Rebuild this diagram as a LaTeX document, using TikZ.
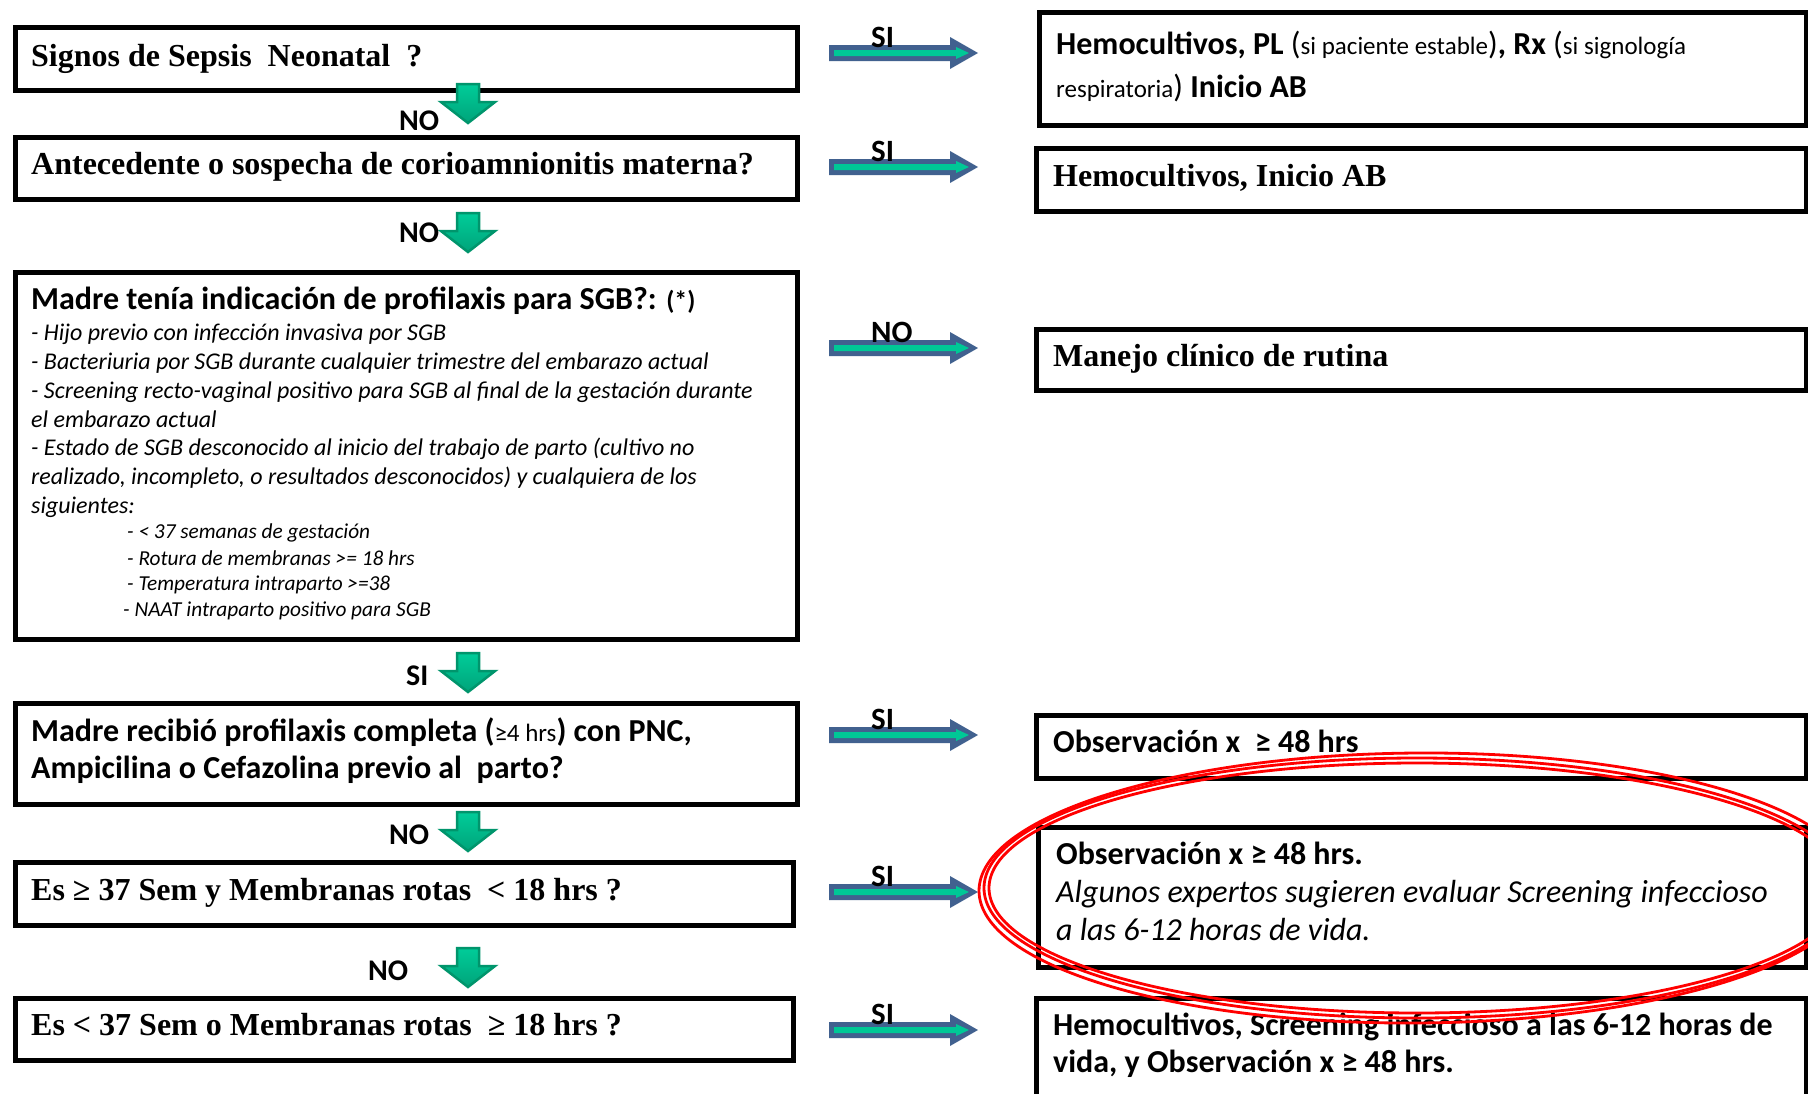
\documentclass[tikz,border=0pt]{standalone}
\usepackage{fontspec}
\setmainfont{Liberation Serif}
\newfontfamily\calfont{Carlito}
\definecolor{arrowblue}{HTML}{41618F}
\definecolor{arrowgreen}{HTML}{00C896}
\definecolor{dlight}{HTML}{00CC99}
\definecolor{ddark}{HTML}{00A47A}
\definecolor{dline}{HTML}{00956C}
\tikzset{
  box/.style={draw=black, line width=4.5pt, inner sep=0pt, anchor=north west},
  lbl/.style={anchor=base west, inner sep=0pt},
  tnr/.style={lbl, font=\fontsize{32}{38}\selectfont\bfseries},
  cb/.style={lbl, font=\calfont\fontsize{32}{38}\selectfont\bfseries},
  cit/.style={lbl, font=\calfont\fontsize{32}{38}\selectfont\itshape},
  litem/.style={lbl, font=\calfont\fontsize{24}{29}\selectfont\itshape},
  sitem/.style={lbl, font=\calfont\fontsize{21.3}{25}\selectfont\itshape},
  tag/.style={lbl, font=\calfont\fontsize{30}{34}\selectfont\bfseries},
  rtag/.style={lbl, font=\calfont\fontsize{31}{35}\selectfont\bfseries},
  rarrow/.pic={
    \fill[arrowblue] (0,-8) -- (121,-8) -- (121,-16) -- (149,0) -- (121,16)
      -- (121,8) -- (0,8) -- cycle;
    \fill[arrowgreen] (5,-3) -- (127,-3) -- (127,-6) -- (140,0) -- (127,6)
      -- (127,3) -- (5,3) -- cycle;
  },
  darrow/.pic={
    \shadedraw[top color=dlight, bottom color=ddark, draw=dline, line width=2.5pt,
      line join=miter]
      (-11,0) -- (11,0) -- (11,18) -- (27,18) -- (0,39) -- (-27,18) -- (-11,18) -- cycle;
  }
}
\newcommand{\sm}[1]{{\mdseries\fontsize{25}{30}\selectfont #1}}
\newcommand{\bigparen}[1]{{\mdseries #1}}
\begin{document}
\begin{tikzpicture}[x=1pt,y=-1pt]
\useasboundingbox (0,0) rectangle (1808,1093);
\clip (0,0) rectangle (1808,1093);
\fill[white] (0,0) rectangle (1808,1093);

% left column: questions
\node[box, minimum width=782pt, minimum height=63pt]  (b1) at (13,25)  {};
\node[box, minimum width=782pt, minimum height=62pt]  (b2) at (13,135) {};
\node[box, minimum width=782pt, minimum height=367pt] (b3) at (13,270) {};
\node[box, minimum width=782pt, minimum height=101pt] (b4) at (13,701) {};
\node[box, minimum width=778pt, minimum height=63pt]  (b5) at (13,860) {};
\node[box, minimum width=778pt, minimum height=62pt]  (b6) at (13,996) {};

% right column: actions
\node[box, minimum width=767pt, minimum height=113pt] (r1) at (1037,10)  {};
\node[box, minimum width=770pt, minimum height=63pt]  (r2) at (1034,146) {};
\node[box, minimum width=770pt, minimum height=61pt]  (r3) at (1034,327) {};
\node[box, minimum width=770pt, minimum height=63pt]  (r4) at (1034,713) {};
\node[box, minimum width=768pt, minimum height=140pt] (r5) at (1036,825) {};
\node[box, minimum width=770pt, minimum height=110pt] (r6) at (1034,996) {};

% question texts
\node[tnr] (t1) at (31,66)  {Signos de Sepsis\ \ Neonatal\ \ ?};
\node[tnr] (t2) at (31,174) {Antecedente o sospecha de corioamnionitis materna?};
\node[cb]  (t3) at (31,309) {Madre tenía indicación de profilaxis para SGB?: {\fontsize{26}{30}\selectfont(*)}};
\node[litem] (l1) at (31,340) {- Hijo previo con infección invasiva por SGB};
\node[litem] (l2) at (31,369) {- Bacteriuria por SGB durante cualquier trimestre del embarazo actual};
\node[litem] (l3) at (31,398) {- Screening recto-vaginal positivo para SGB al final de la gestación durante};
\node[litem] (l4) at (31,427) {el embarazo actual};
\node[litem] (l5) at (31,455) {- Estado de SGB desconocido al inicio del trabajo de parto (cultivo no};
\node[litem] (l6) at (31,484) {realizado, incompleto, o resultados desconocidos) y cualquiera de los};
\node[litem] (l7) at (31,513) {siguientes:};
\node[sitem] (s1) at (127,538) {- < 37 semanas de gestación};
\node[sitem] (s2) at (127,565) {- Rotura de membranas >= 18 hrs};
\node[sitem] (s3) at (127,590) {- Temperatura intraparto >=38};
\node[sitem] (s4) at (123,616) {- NAAT intraparto positivo para SGB};
\node[cb] (t4a) at (31,741) {Madre recibió profilaxis completa (\sm{≥4 hrs}) con PNC,};
\node[cb] (t4b) at (31,778) {Ampicilina o Cefazolina previo al\ \ parto?};
\node[tnr] (t5) at (31,900)  {Es ≥ 37 Sem y Membranas rotas\ \ < 18 hrs ?};
\node[tnr] (t6) at (31,1035) {Es < 37 Sem o Membranas rotas\ \ ≥ 18 hrs ?};

% action texts
\node[cb] (u1a) at (1056,54) {Hemocultivos, PL \bigparen{(}\sm{si paciente estable}\bigparen{)}, Rx \bigparen{(}\sm{si signología}};
\node[cb] (u1b) at (1056,97) {\sm{respiratoria}\bigparen{)} Inicio AB};
\node[tnr] (u2) at (1053,186) {Hemocultivos, Inicio AB};
\node[tnr] (u3) at (1053,366) {Manejo clínico de rutina};
\node[cb]  (u4) at (1053,752) {Observación x\ \ ≥ 48 hrs};
\node[cb]  (u5a) at (1056,864) {Observación x ≥ 48 hrs.};
\node[cit] (u5b) at (1056,902) {Algunos expertos sugieren evaluar Screening infeccioso};
\node[cit] (u5c) at (1056,940) {a las 6-12 horas de vida.};
\node[cb]  (u6a) at (1053,1035) {Hemocultivos, Screening infeccioso a las 6-12 horas de};
\node[cb]  (u6b) at (1053,1072) {vida, y Observación x ≥ 48 hrs.};

% horizontal arrows with their labels on top
\foreach \yy/\nm/\tx in {53/h1/SI, 167/h2/SI, 348/h3/NO, 735/h4/SI, 892/h5/SI, 1030/h6/SI}{
  \pic at (829,\yy) {rarrow};
  \node[rtag] (\nm) at (871,\yy-6) {\tx};
}

% vertical arrows with their labels
\pic at (468,84)  {darrow};
\pic at (468,213) {darrow};
\pic at (468,653) {darrow};
\pic at (468,812) {darrow};
\pic at (468,948) {darrow};
\node[tag] (v1) at (399,130) {NO};
\node[tag] (v2) at (399,242) {NO};
\node[tag] (v3) at (406,685) {SI};
\node[tag] (v4) at (389,844) {NO};
\node[tag] (v5) at (368,980) {NO};

% hand-drawn emphasis ring
\begin{scope}[red, line width=2.8pt]
  \draw (1417,888) ellipse [x radius=428, y radius=125];
  \draw (1417,888) ellipse [x radius=433, y radius=130];
  \draw[rotate around={0.4:(1417,888)}] (1417,888) ellipse [x radius=438, y radius=135];
\end{scope}
\end{tikzpicture}
\end{document}
